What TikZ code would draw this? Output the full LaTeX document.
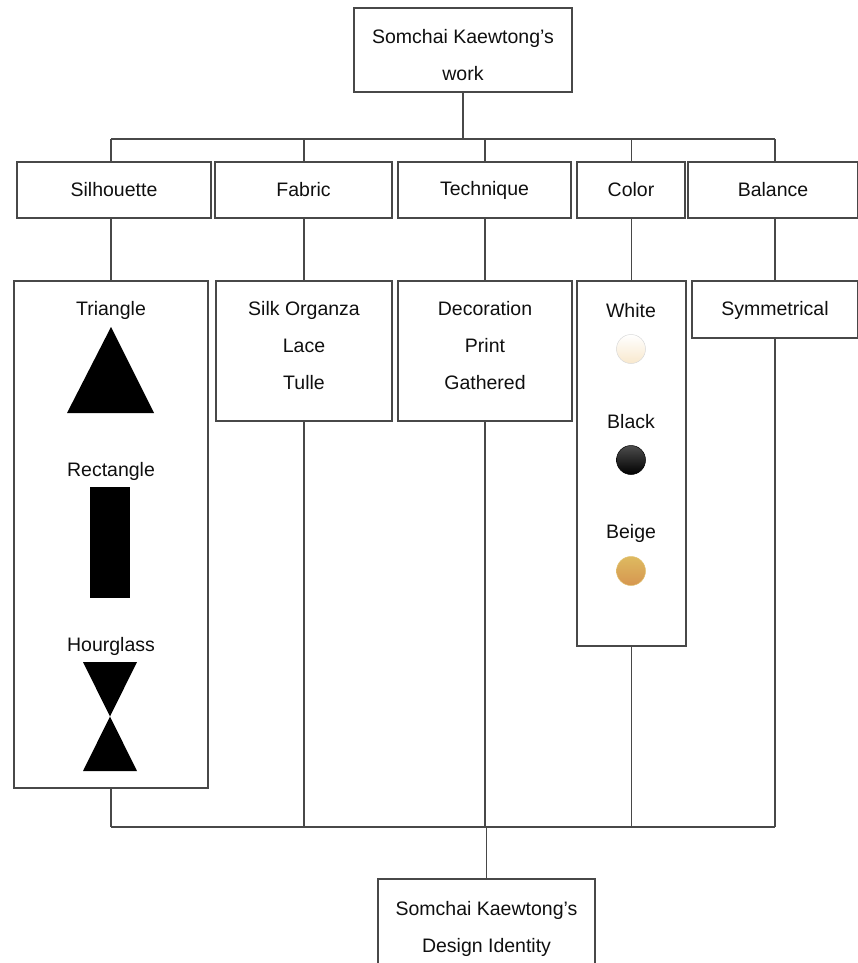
\documentclass[tikz,border=0pt]{standalone}
\usepackage{fontspec}
\setmainfont{Liberation Sans}
\usetikzlibrary{calc,positioning}
\definecolor{LineGray}{RGB}{72,72,72}
\definecolor{TextBlack}{RGB}{15,15,15}
\definecolor{CreamWhite}{RGB}{248,232,205}
\definecolor{BeigeTop}{RGB}{222,186,96}
\definecolor{BeigeBot}{RGB}{214,150,80}
\newcommand{\colordot}[4]{%
  \shade[top color=#2,bottom color=#3,draw=#4,line width=0.5pt] (631,#1) circle [radius=14.5pt];}

\begin{document}
\begin{tikzpicture}[x=1pt,y=-1pt,
    box/.style={draw=LineGray,line width=1.2pt,inner sep=0pt,align=center,text=TextBlack,
      font=\fontsize{19.5}{37}\selectfont},
    lbl/.style={inner sep=0pt,align=center,text=TextBlack,font=\fontsize{19.5}{37}\selectfont},
    link/.style={draw=LineGray,line width=1.2pt}]
  \useasboundingbox (0,0) rectangle (857,963);
  % top and bottom
  \node[box,minimum width=218pt,minimum height=84pt] (work) at (463,50) {};
  \node[lbl] (workT) at (463,55) {Somchai Kaewtong's\\work};
  \node[box,minimum width=217pt,minimum height=106pt] (ident) at (486.5,932) {};
  \node[lbl] (identT) at (486.5,929) {Somchai Kaewtong's\\Design Identity};
  % categories
  \node[box,minimum width=194pt,minimum height=56pt] (sil) at (114,190) {Silhouette};
  \node[box,minimum width=177pt,minimum height=56pt] (fab) at (303.5,190) {Fabric};
  \node[box,minimum width=173pt,minimum height=56pt] (tec) at (484.5,190) {Technique};
  \node[box,minimum width=108pt,minimum height=56pt] (col) at (631,190) {Color};
  \node[box,minimum width=170pt,minimum height=56pt] (bal) at (773,190) {Balance};
  % details
  \node[box,minimum width=194pt,minimum height=507pt] (silD) at (111,534.5) {};
  \node[box,minimum width=176pt,minimum height=140pt] (fabD) at (304,351) {};
  \node[lbl] (fabT) at (304,346) {Silk Organza\\Lace\\Tulle};
  \node[box,minimum width=174pt,minimum height=140pt] (tecD) at (485,351) {};
  \node[lbl] (tecT) at (485,346) {Decoration\\Print\\Gathered};
  \node[box,minimum width=109pt,minimum height=365pt] (colD) at (631.5,463.5) {};
  \node[box,minimum width=166pt,minimum height=57pt] (balD) at (775,309.5) {};
  \node[lbl] (balT) at (775,310) {Symmetrical};
  % silhouette shapes
  \node[lbl] (tri) at (111,310) {Triangle};
  \fill (67,413) -- (111,327) -- (154,413) -- cycle;
  \node[lbl] (rect) at (111,471) {Rectangle};
  \fill (90,487) rectangle (130,598);
  \node[lbl] (hour) at (111,646) {Hourglass};
  \fill (83,662) -- (137,662) -- (83,771) -- (137,771) -- cycle;
  % colours
  \node[lbl] (white) at (631,311) {White};
  \colordot{349}{white}{CreamWhite}{black!15}
  \node[lbl] (black) at (631,422) {Black};
  \colordot{460}{black!70}{black}{black}
  \node[lbl] (beige) at (631,533) {Beige};
  \colordot{571}{BeigeTop}{BeigeBot}{BeigeTop!90!white}
  % connectors
  \coordinate (topbus) at (0,139);
  \coordinate (botbus) at (0,827);
  \draw[link] (work.south) -- (work.south |- topbus);
  \draw[link] (silD.north |- topbus) -- (balD.north |- topbus);
  \foreach \c in {silD,fabD,tecD,colD,balD}{
    \draw[link] (\c.north |- topbus) -- (\c.north |- sil.north);
    \draw[link] (\c.north |- sil.south) -- (\c.north);
    \draw[link] (\c.south) -- (\c.south |- botbus);
  }
  \draw[link] (silD.south |- botbus) -- (balD.south |- botbus);
  \draw[link] (ident.north |- botbus) -- (ident.north);
\end{tikzpicture}
\end{document}
